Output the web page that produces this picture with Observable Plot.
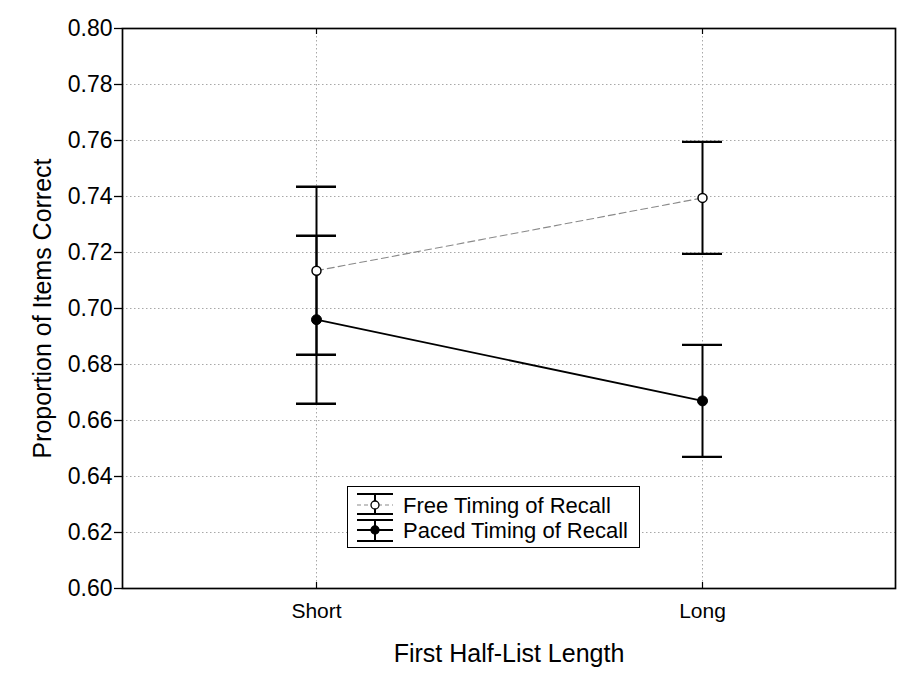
<!DOCTYPE html>
<html><head><meta charset="utf-8">
<script src="https://cdn.jsdelivr.net/npm/d3@7"></script>
<script src="https://cdn.jsdelivr.net/npm/@observablehq/plot@0.6"></script>
<style>
body{margin:0;background:#fff;font-family:"Liberation Sans",Arial,sans-serif;}
#wrap{position:relative;width:918px;height:681px;}
#legend{position:absolute;left:347px;top:486px;width:291px;height:60px;border:1.5px solid #000;background:#fff;}
#legend svg{display:block;}
</style></head><body><div id="wrap"></div>
<script>
// ---- data ----
const lengths = ["Short", "Long"];
const freeMean = [0.7135, 0.7395];
const freeLow = [0.6835, 0.7195];
const freeHigh = [0.7435, 0.7595];
const pacedMean = [0.696, 0.667];
const pacedLow = [0.666, 0.647];
const pacedHigh = [0.726, 0.687];
const yTicks = [0.60, 0.62, 0.64, 0.66, 0.68, 0.70, 0.72, 0.74, 0.76, 0.78, 0.80];
const seriesNames = ["Free Timing of Recall", "Paced Timing of Recall"];
const xTitle = "First Half-List Length";
const yTitle = "Proportion of Items Correct";

const free = lengths.map((l, i) => ({length: l, mean: freeMean[i], low: freeLow[i], high: freeHigh[i]}));
const paced = lengths.map((l, i) => ({length: l, mean: pacedMean[i], low: pacedLow[i], high: pacedHigh[i]}));
const all = free.concat(paced);

const W = 918, H = 681, mL = 122, mR = 23, mT = 28, mB = 93;
const plotH = H - mT - mB;
const gridStyle = {stroke: "#a8a8a8", strokeOpacity: 1, strokeDasharray: "1.5,2.5", strokeWidth: 1};

const chart = Plot.plot({
  width: W, height: H,
  marginLeft: mL, marginRight: mR, marginTop: mT, marginBottom: mB,
  style: {fontFamily: "'Liberation Sans', Arial, sans-serif", color: "#000", background: "#fff"},
  x: {type: "band", domain: lengths, paddingInner: 0.8965, paddingOuter: 0.448},
  y: {domain: [0.6, 0.8]},
  marks: [
    Plot.gridY(yTicks, gridStyle),
    Plot.gridX(lengths, gridStyle),
    Plot.axisY(yTicks, {tickFormat: d3.format(".2f"), tickSize: 8, tickPadding: 2, fontSize: 23, label: null, strokeWidth: 1.3}),
    Plot.axisX(lengths, {tickSize: 0, tickPadding: 15, fontSize: 21, label: null}),
    Plot.ruleX(lengths, {x: d => d, insetTop: plotH - 6, stroke: "#000", strokeWidth: 1.2}),
    Plot.ruleX(lengths, {x: d => d, insetBottom: plotH - 6, stroke: "#000", strokeWidth: 1.2}),
    Plot.text([xTitle], {frameAnchor: "bottom", dy: 56, lineAnchor: "top", fontSize: 25, fill: "#000"}),
    Plot.text([yTitle], {frameAnchor: "left", dx: -80, rotate: -90, textAnchor: "middle", lineAnchor: "middle", fontSize: 25, fill: "#000"}),
    Plot.ruleX(all, {x: "length", y1: "low", y2: "high", stroke: "#000", strokeWidth: 2}),
    Plot.tickY(all, {x: "length", y: "low", stroke: "#000", strokeWidth: 2.4}),
    Plot.tickY(all, {x: "length", y: "high", stroke: "#000", strokeWidth: 2.4}),
    Plot.line(free, {x: "length", y: "mean", stroke: "#8a8a8a", strokeWidth: 1.1, strokeDasharray: "7,4"}),
    Plot.line(paced, {x: "length", y: "mean", stroke: "#000", strokeWidth: 1.8}),
    Plot.dot(free, {x: "length", y: "mean", r: 4.5, fill: "#fff", stroke: "#000", strokeWidth: 1.5}),
    Plot.dot(paced, {x: "length", y: "mean", r: 5, fill: "#000", stroke: "#000", strokeWidth: 1}),
    Plot.frame({stroke: "#000", strokeWidth: 1.7})
  ]
});

const wrap = document.getElementById("wrap");
wrap.appendChild(chart);

// ---- legend ----
const legend = document.createElement("div");
legend.id = "legend";
wrap.appendChild(legend);
const lsvg = d3.select(legend).append("svg").attr("width", 291).attr("height", 60);
const rows = [
  {name: seriesNames[0], top: 7, mid: 18, bot: 27, base: 26, fill: "#fff", line: "#8a8a8a", dash: "4,3", lw: 1.1},
  {name: seriesNames[1], top: 33, mid: 43, bot: 54, base: 51, fill: "#000", line: "#000", dash: null, lw: 1.8}
];
const cx = 27, x0 = 9, x1 = 45;
rows.forEach(r => {
  const g = lsvg.append("g");
  g.append("line").attr("x1", x0).attr("x2", x1).attr("y1", r.mid).attr("y2", r.mid)
    .attr("stroke", r.line).attr("stroke-width", r.lw).attr("stroke-dasharray", r.dash);
  g.append("line").attr("x1", cx).attr("x2", cx).attr("y1", r.top).attr("y2", r.bot).attr("stroke", "#000").attr("stroke-width", 2);
  g.append("line").attr("x1", x0).attr("x2", x1).attr("y1", r.top).attr("y2", r.top).attr("stroke", "#000").attr("stroke-width", 2);
  g.append("line").attr("x1", x0).attr("x2", x1).attr("y1", r.bot).attr("y2", r.bot).attr("stroke", "#000").attr("stroke-width", 2);
  g.append("circle").attr("cx", cx).attr("cy", r.mid).attr("r", 4).attr("fill", r.fill).attr("stroke", "#000").attr("stroke-width", 1.3);
  g.append("text").attr("x", 55).attr("y", r.base).attr("font-size", 22)
    .attr("font-family", "'Liberation Sans', Arial, sans-serif").attr("fill", "#000").text(r.name);
});
</script>
</body></html>
